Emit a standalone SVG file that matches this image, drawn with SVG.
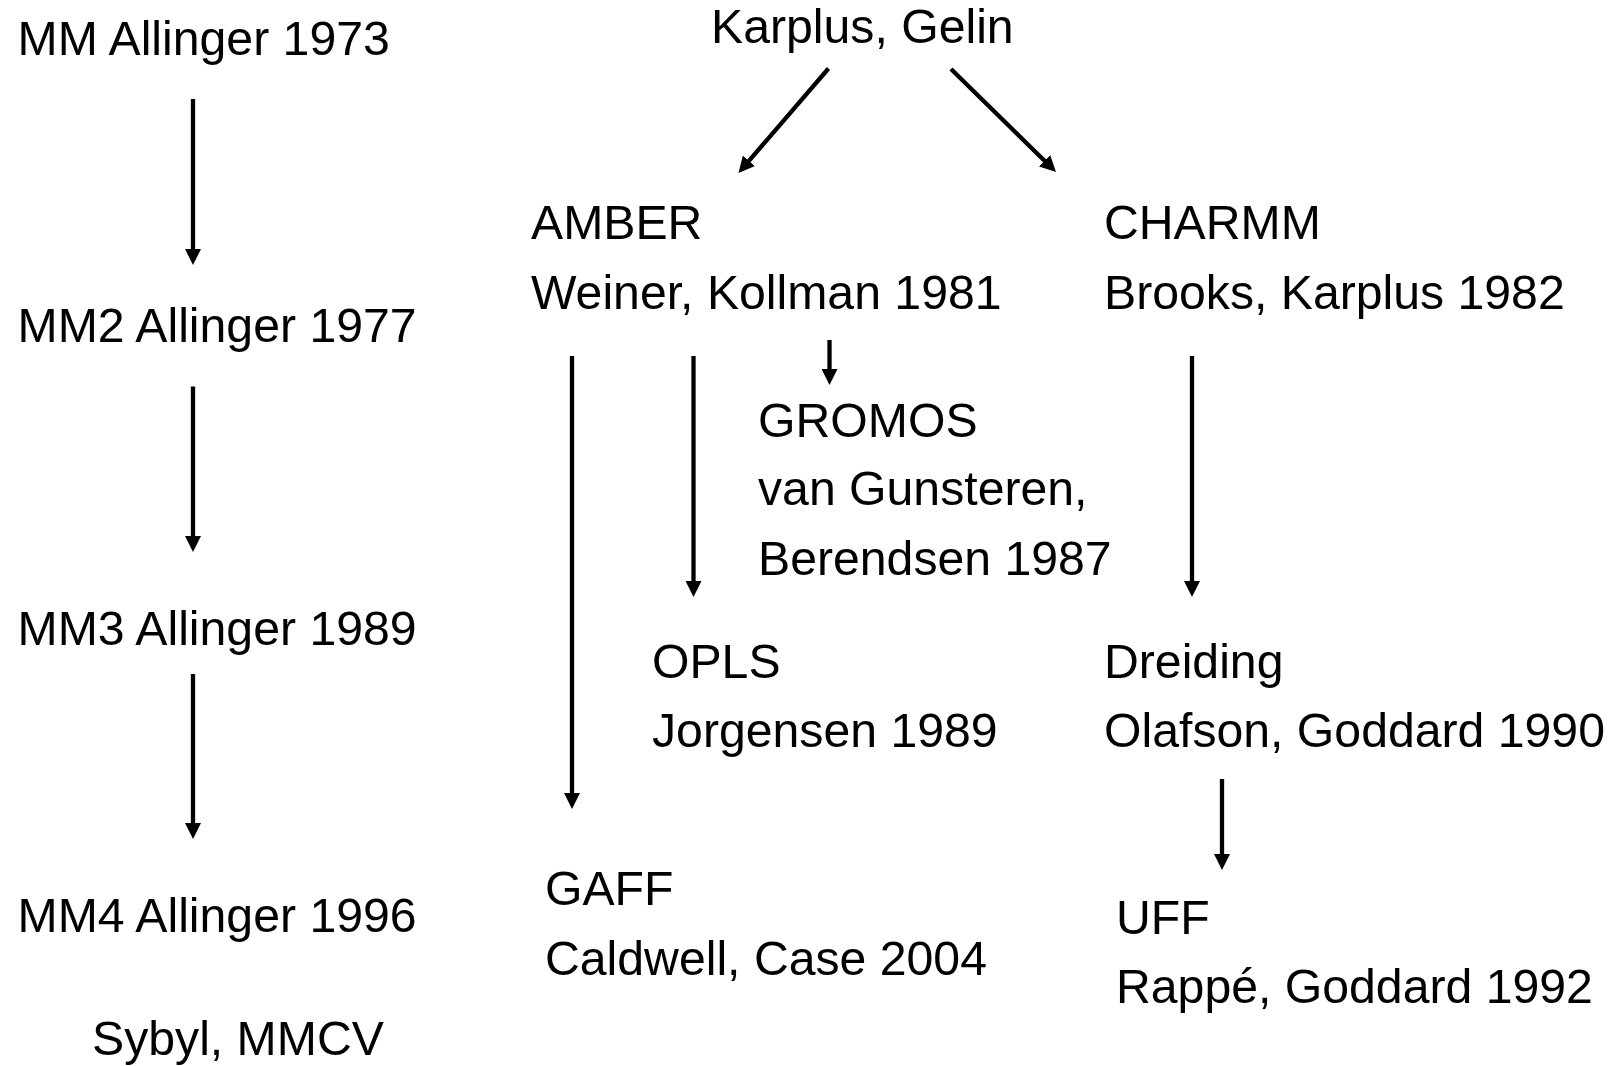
<svg xmlns="http://www.w3.org/2000/svg" width="1612" height="1066" viewBox="0 0 1612 1066">
  <style>
    text { font-family: "Liberation Sans", Arial, sans-serif; font-size: 48.2px; fill: #000; }
    .conn line { stroke: #000; stroke-width: 4.3; marker-end: url(#arrow); }
  </style>
  <defs>
    <marker id="arrow" markerUnits="userSpaceOnUse" markerWidth="16" markerHeight="16" refX="2" refY="8" orient="auto">
      <path d="M0,0 L16,8 L0,16 Z" fill="#000"/>
    </marker>
  </defs>
  <rect width="1612" height="1066" fill="#fff"/>

  <g id="mm"><text x="17.5" y="55">MM Allinger 1973</text></g>
  <g id="mm2"><text x="17.5" y="342">MM2 Allinger 1977</text></g>
  <g id="mm3"><text x="17.5" y="645">MM3 Allinger 1989</text></g>
  <g id="mm4"><text x="17.5" y="932">MM4 Allinger 1996</text></g>
  <g id="sybyl"><text x="92" y="1055">Sybyl, MMCV</text></g>

  <g id="karplus"><text x="711" y="43">Karplus, Gelin</text></g>
  <g id="amber"><text x="531" y="239">AMBER</text><text x="531" y="309">Weiner, Kollman 1981</text></g>
  <g id="charmm"><text x="1104" y="239">CHARMM</text><text x="1104" y="309">Brooks, Karplus 1982</text></g>
  <g id="gromos"><text x="758" y="437">GROMOS</text><text x="758" y="505">van Gunsteren,</text><text x="758" y="575">Berendsen 1987</text></g>
  <g id="opls"><text x="652" y="678">OPLS</text><text x="652" y="747">Jorgensen 1989</text></g>
  <g id="dreiding"><text x="1104" y="678">Dreiding</text><text x="1104" y="747">Olafson, Goddard 1990</text></g>
  <g id="gaff"><text x="545" y="905">GAFF</text><text x="545" y="975">Caldwell, Case 2004</text></g>
  <g id="uff"><text x="1116" y="934">UFF</text><text x="1116" y="1003">Rappé, Goddard 1992</text></g>

  <g id="connectors" class="conn">
    <line x1="193" y1="99" x2="193" y2="251"/>
    <line x1="193" y1="386.5" x2="193" y2="538"/>
    <line x1="193" y1="674" x2="193" y2="825"/>
    <line x1="828.5" y1="68.5" x2="747.6" y2="162.4"/>
    <line x1="951" y1="69" x2="1046" y2="162.2"/>
    <line x1="572" y1="356" x2="572" y2="795"/>
    <line x1="693.5" y1="356" x2="693.5" y2="583"/>
    <line x1="829.5" y1="340" x2="829.5" y2="371"/>
    <line x1="1192" y1="356" x2="1192" y2="583"/>
    <line x1="1222" y1="779" x2="1222" y2="856"/>
  </g>
</svg>
